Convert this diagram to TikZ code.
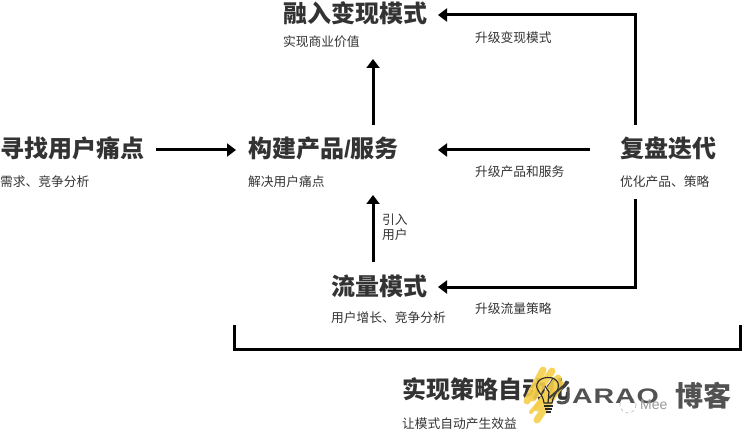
\documentclass[tikz,border=0pt]{standalone}
\usepackage{fontspec}
\setmainfont{Noto Sans CJK SC}
\newfontfamily\latinf{Liberation Sans}
\newfontfamily\wmf[LetterSpace=3]{Liberation Sans}
\usetikzlibrary{arrows.meta}
\definecolor{ink}{HTML}{333333}
\definecolor{scrib}{HTML}{F5CE4A}
\tikzset{
  x=1pt,y=-1pt,
  ttl/.style={anchor=base west,inner sep=0pt,font=\fontsize{24}{24}\selectfont\bfseries,text=ink},
  sub/.style={anchor=base west,inner sep=0pt,font=\fontsize{12.75}{14}\selectfont,text=ink},
  arr/.style={line width=3pt,-{Triangle[length=9pt,width=13pt]},black},
  ln/.style={line width=3pt,black},
  wm/.style={anchor=base west,inner sep=0pt,font=\fontsize{21}{21}\selectfont\bfseries,text=black!68},
  scr/.style={line width=7pt,scrib,line cap=round,opacity=.9},
}
\begin{document}
\begin{tikzpicture}
\useasboundingbox (0,0) rectangle (743,430);
\node[ttl] (a) at (0,158) {寻找用户痛点};
\node[sub] (as) at (0,187) {需求、竞争分析};
\node[ttl] (b) at (248,158) {构建产品{\latinf /}服务};
\node[sub] (bs) at (248,187) {解决用户痛点};
\node[ttl] (c) at (283,23) {融入变现模式};
\node[sub] (cs) at (283,47) {实现商业价值};
\node[ttl] (d) at (620,158) {复盘迭代};
\node[sub] (ds) at (620,187) {优化产品、策略};
\node[ttl] (e) at (331,295) {流量模式};
\node[sub] (es) at (331,322) {用户增长、竞争分析};
\node[sub] (l1) at (475,43) {升级变现模式};
\node[sub] (l2) at (475,177) {升级产品和服务};
\node[sub] (l3) at (475,313) {升级流量策略};
\node[sub] (l4) at (382,225) {引入};
\node[sub] (l5) at (382,240) {用户};
\node[ttl] (f) at (402,398) {实现策略自动化};
\node[sub] (fs) at (402,428) {让模式自动产生效益};

\coordinate (a1) at (156,150); \coordinate (a2) at (236,150);
\coordinate (b1) at (373,125); \coordinate (b2) at (373,59);
\coordinate (c1) at (373,262); \coordinate (c2) at (373,195);
\coordinate (d1) at (590,150); \coordinate (d2) at (438,150);
\coordinate (e1) at (635.5,125); \coordinate (e2) at (635.5,15); \coordinate (e3) at (438,15);
\coordinate (g1) at (635.5,199); \coordinate (g2) at (635.5,287); \coordinate (g3) at (438,287);
\coordinate (h1) at (234.5,325); \coordinate (h2) at (234.5,349); \coordinate (h3) at (740,349); \coordinate (h4) at (740,325);
\draw[arr] (a1) -- (a2);
\draw[arr] (b1) -- (b2);
\draw[arr] (c1) -- (c2);
\draw[arr] (d1) -- (d2);
\draw[arr] (e1) -- (e2) -- (e3);
\draw[arr] (g1) -- (g2) -- (g3);
\draw[ln] (h1) -- (h2) -- (h3) -- (h4);

% watermark
\draw[scr] (527,401) -- (543,370);
\draw[scr] (533,398) -- (552,371);
\draw[scr] (537,408) -- (558,378);
\draw[scr] (537,420) -- (561,384);
\draw[scr,line width=4pt] (531,412) -- (548,392);
\draw[black!85,line width=1.1pt] (544,403) .. controls (543,393) and (535,391) .. (537,384) .. controls (539,376) and (555,375) .. (558,383) .. controls (560,391) and (553,394) .. (552,403) -- cycle;
\draw[black!85,line width=1.3pt] (544,406) -- (553,406) (545,409) -- (552,409) (546,412) -- (551,412);
\draw[black!85,line width=1.2pt] (545,386) -- (549,392) -- (548,403);
\draw[black!75,line width=2pt,line cap=round] (549,398) -- (568,382);
\draw[black!68,line width=3pt,line cap=round] (568,388) -- (568,398) .. controls (568,403) and (562,404) .. (558,402);
\draw[black!35,dashed,line width=.5pt] (628,405) circle (8);
\node[wm] (w) at (572,403) {\scalebox{1.36}[1]{\wmf ARAO}};
\node[wm,font=\fontsize{28}{28}\selectfont\bfseries] (w3) at (675,406) {博客};
\node[anchor=base west,inner sep=0pt,font=\latinf\fontsize{14}{14}\selectfont,text=black!40] (w2) at (640,409) {Mee};
\end{tikzpicture}
\end{document}
